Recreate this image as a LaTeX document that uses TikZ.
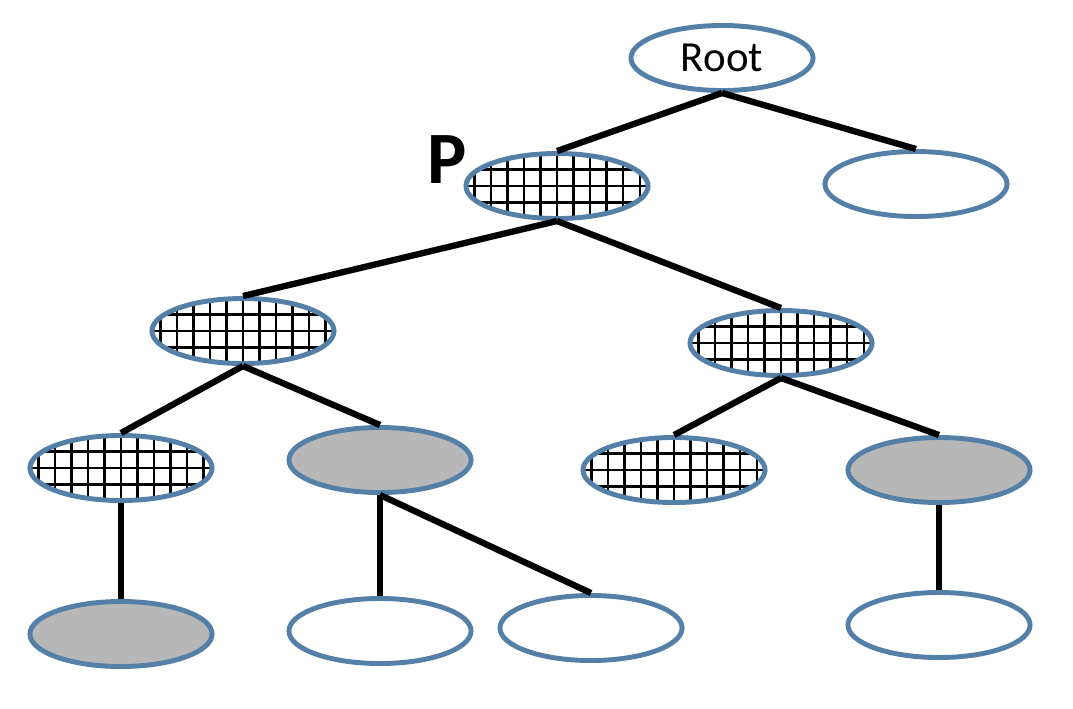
\documentclass[tikz,border=0pt]{standalone}
\usepackage{fontspec}
\setmainfont{Carlito}
\usetikzlibrary{shapes.geometric}

\definecolor{rimblue}{RGB}{84,128,168}
\definecolor{shadegray}{RGB}{183,183,183}

\tikzset{
    treenode/.style={ellipse, draw=rimblue, line width=1.4pt, minimum width=1.82cm, minimum height=0.65cm, inner sep=0pt, fill=white},
    meshnode/.style={treenode, path picture={
        \draw[step=0.165cm, black, line width=0.6pt] (path picture bounding box.south west) grid (path picture bounding box.north east);}},
    greynode/.style={treenode, fill=shadegray},
    branch/.style={line width=1.8pt, black}
}

\begin{document}
\begin{tikzpicture}[x=0.01cm, y=-0.01cm]
    \useasboundingbox (0,0) rectangle (1073,708);

    % Draw root and first level
    \node[treenode] (root) at (722,58) {\fontsize{12.2}{14}\selectfont Root};
    \node[meshnode] (p) at (557,186) {};
    \node[treenode] (q) at (916,184) {};
    \node[font=\fontsize{21}{24}\selectfont\bfseries] (plabel) at (447,160) {P};

    % Draw second level
    \node[meshnode] (pl) at (243,331) {};
    \node[meshnode] (pr) at (781,343) {};

    % Draw third level
    \node[meshnode] (pll) at (121,468) {};
    \node[greynode] (plr) at (380,460) {};
    \node[meshnode] (prl) at (674,470) {};
    \node[greynode] (prr) at (939,470) {};

    % Draw fourth level
    \node[greynode] (plla) at (121,634) {};
    \node[treenode] (plra) at (380,631) {};
    \node[treenode] (plrb) at (591,628) {};
    \node[treenode] (prra) at (939,625) {};

    % Draw the branches
    \draw[branch] (root.south) -- (p.north);
    \draw[branch] (root.south) -- (q.north);
    \draw[branch] (p.south) -- (pl.north);
    \draw[branch] (p.south) -- (pr.north);
    \draw[branch] (pl.south) -- (pll.north);
    \draw[branch] (pl.south) -- (plr.north);
    \draw[branch] (pr.south) -- (prl.north);
    \draw[branch] (pr.south) -- (prr.north);
    \draw[branch] (pll.south) -- (plla.north);
    \draw[branch] (plr.south) -- (plra.north);
    \draw[branch] (plr.south) -- (plrb.north);
    \draw[branch] (prr.south) -- (prra.north);
\end{tikzpicture}
\end{document}
